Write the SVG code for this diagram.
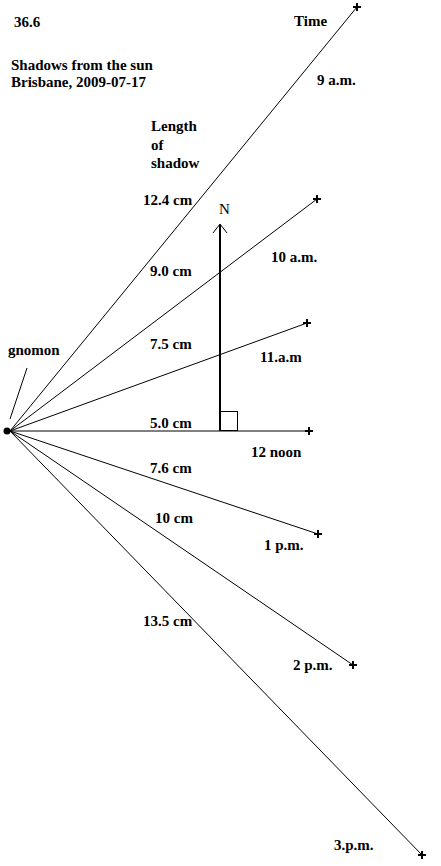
<svg xmlns="http://www.w3.org/2000/svg" width="441" height="866" viewBox="0 0 441 866">
<style>
text{font-family:"Liberation Serif","Times New Roman",serif;font-weight:bold;font-size:15px;fill:#000}
.ray{stroke:#000;stroke-width:1;fill:none}
.plus{stroke:#000;stroke-width:2;fill:none}
</style>
<defs>
<path id="p" class="plus" d="M-4,0H4M0,-4V4"/>
</defs>
<rect width="441" height="866" fill="#fff"/>
<g id="titles">
<text x="14" y="27">36.6</text>
<text x="11" y="70">Shadows from the sun</text>
<text x="11" y="87">Brisbane, 2009-07-17</text>
<text x="294" y="26">Time</text>
<text x="151" y="131">Length</text>
<text x="151" y="150">of</text>
<text x="151" y="168">shadow</text>
</g>
<g id="connectors">
<line class="ray" x1="10" y1="431" x2="357" y2="7"/>
<line class="ray" x1="10" y1="431" x2="317" y2="199"/>
<line class="ray" x1="10" y1="431" x2="307" y2="323"/>
<line class="ray" x1="10" y1="431" x2="309" y2="431"/>
<line class="ray" x1="10" y1="431" x2="318" y2="534"/>
<line class="ray" x1="10" y1="431" x2="353" y2="665"/>
<line class="ray" x1="10" y1="431" x2="422" y2="855"/>
<line class="ray" x1="27" y1="368" x2="10" y2="419"/>
</g>
<g id="gnomon">
<circle cx="7" cy="431" r="3.5" fill="#000"/>
<text x="8" y="355">gnomon</text>
</g>
<g id="north">
<line x1="220" y1="225" x2="220" y2="431" stroke="#000" stroke-width="2"/>
<path d="M213,233L220,224L227,233" stroke="#000" stroke-width="1" fill="none"/>
<rect x="220.5" y="411.5" width="17" height="19" fill="none" stroke="#000" stroke-width="1"/>
<text x="219" y="214" style="font-weight:normal">N</text>
</g>
<g id="t9">
<use href="#p" x="357" y="7"/>
<text x="317" y="85">9 a.m.</text>
<text x="143" y="205">12.4 cm</text>
</g>
<g id="t10">
<use href="#p" x="317" y="199"/>
<text x="271" y="262">10 a.m.</text>
<text x="150" y="276">9.0 cm</text>
</g>
<g id="t11">
<use href="#p" x="307" y="323"/>
<text x="260" y="362">11.a.m</text>
<text x="150" y="349">7.5 cm</text>
</g>
<g id="t12">
<use href="#p" x="309" y="431"/>
<text x="251" y="457">12 noon</text>
<text x="150" y="428">5.0 cm</text>
</g>
<g id="t13">
<use href="#p" x="318" y="534"/>
<text x="264" y="550">1 p.m.</text>
<text x="150" y="473">7.6 cm</text>
</g>
<g id="t14">
<use href="#p" x="353" y="665"/>
<text x="293" y="670">2 p.m.</text>
<text x="155" y="523">10 cm</text>
</g>
<g id="t15">
<use href="#p" x="422" y="855"/>
<text x="334" y="850">3.p.m.</text>
<text x="143" y="626">13.5 cm</text>
</g>
</svg>
